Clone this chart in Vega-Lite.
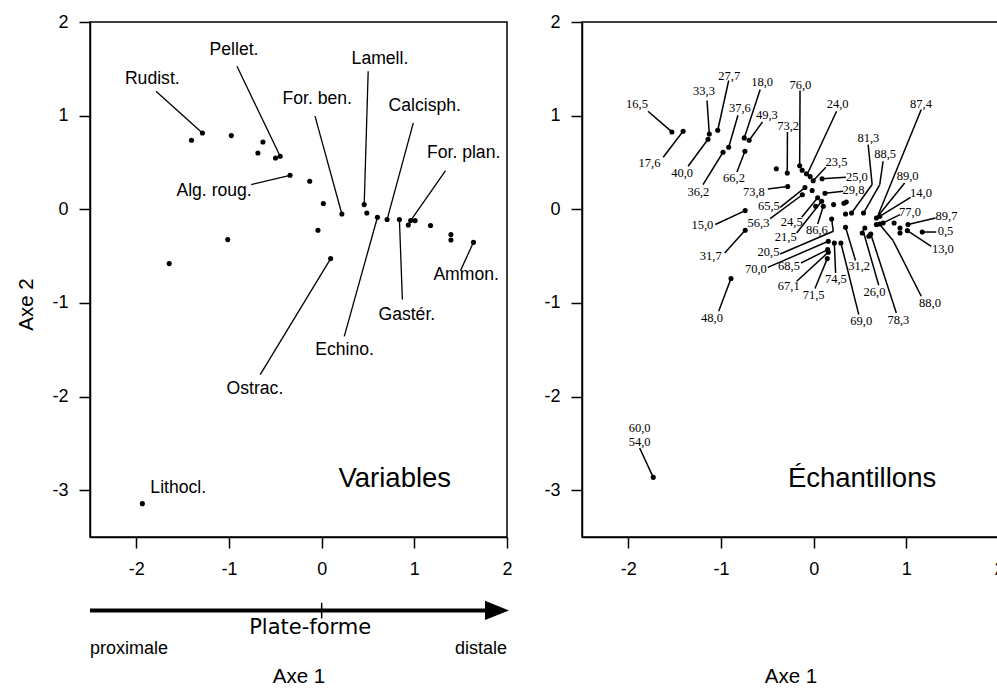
{
  "$schema": "https://vega.github.io/schema/vega-lite/v6.json",
  "background": "white",
  "padding": {"left": 16, "top": 12, "right": 0, "bottom": 0},
  "autosize": {"type": "pad"},
  "datasets": {
    "lpts": [
      {"x": -1.287, "y": 0.815}, {"x": -1.405, "y": 0.737}, {"x": -0.975, "y": 0.787}, {"x": -0.634, "y": 0.719},
      {"x": -0.688, "y": 0.601}, {"x": -0.498, "y": 0.548}, {"x": -0.448, "y": 0.566}, {"x": -0.341, "y": 0.363},
      {"x": -0.129, "y": 0.299}, {"x": 0.018, "y": 0.061}, {"x": 0.218, "y": -0.05}, {"x": -0.04, "y": -0.224},
      {"x": -1.014, "y": -0.324}, {"x": -1.645, "y": -0.58}, {"x": 0.097, "y": -0.527}, {"x": 0.459, "y": 0.05},
      {"x": 0.487, "y": -0.04}, {"x": 0.602, "y": -0.085}, {"x": 0.706, "y": -0.11}, {"x": 0.839, "y": -0.11},
      {"x": 0.935, "y": -0.168}, {"x": 0.96, "y": -0.121}, {"x": 1.008, "y": -0.121}, {"x": 1.175, "y": -0.174},
      {"x": 1.395, "y": -0.27}, {"x": 1.395, "y": -0.328}, {"x": 1.638, "y": -0.353}, {"x": -1.935, "y": -3.144}
    ],
    "llab": [
      {"label": "Rudist.", "x": -1.828, "y": 1.389},
      {"label": "Pellet.", "x": -0.946, "y": 1.699},
      {"label": "For. ben.", "x": -0.048, "y": 1.181},
      {"label": "Lamell.", "x": 0.629, "y": 1.603},
      {"label": "Calcisph.", "x": 1.113, "y": 1.1},
      {"label": "For. plan.", "x": 1.532, "y": 0.598},
      {"label": "Alg. roug.", "x": -1.161, "y": 0.192},
      {"label": "Ammon.", "x": 1.559, "y": -0.705},
      {"label": "Gastér.", "x": 0.919, "y": -1.132},
      {"label": "Echino.", "x": 0.247, "y": -1.506},
      {"label": "Ostrac.", "x": -0.72, "y": -1.918},
      {"label": "Lithocl.", "x": -1.548, "y": -2.975}
    ],
    "llead": [
      {"x": -1.788, "y": 1.261, "x2": -1.287, "y2": 0.815},
      {"x": -0.914, "y": 1.528, "x2": -0.448, "y2": 0.566},
      {"x": -0.072, "y": 0.994, "x2": 0.218, "y2": -0.05},
      {"x": 0.502, "y": 1.474, "x2": 0.459, "y2": 0.05},
      {"x": 0.989, "y": 0.922, "x2": 0.706, "y2": -0.11},
      {"x": 1.337, "y": 0.413, "x2": 0.96, "y2": -0.121},
      {"x": -0.76, "y": 0.264, "x2": -0.341, "y2": 0.363},
      {"x": 1.498, "y": -0.655, "x2": 1.638, "y2": -0.353},
      {"x": 0.871, "y": -0.965, "x2": 0.839, "y2": -0.11},
      {"x": 0.244, "y": -1.357, "x2": 0.602, "y2": -0.085},
      {"x": -0.663, "y": -1.766, "x2": 0.097, "y2": -0.527}
    ],
    "rpts": [
      {"x": -1.53, "y": 0.826}, {"x": -1.409, "y": 0.833}, {"x": -1.126, "y": 0.804}, {"x": -1.035, "y": 0.844},
      {"x": -1.14, "y": 0.748}, {"x": -0.917, "y": 0.662}, {"x": -0.978, "y": 0.609}, {"x": -0.749, "y": 0.762},
      {"x": -0.696, "y": 0.737}, {"x": -0.742, "y": 0.62}, {"x": -0.403, "y": 0.433}, {"x": -0.285, "y": 0.388},
      {"x": -0.151, "y": 0.465}, {"x": -0.124, "y": 0.417}, {"x": -0.078, "y": 0.379}, {"x": -0.038, "y": 0.349},
      {"x": -0.005, "y": 0.304}, {"x": 0.091, "y": 0.326}, {"x": -0.28, "y": 0.243}, {"x": -0.094, "y": 0.232},
      {"x": -0.016, "y": 0.2}, {"x": 0.122, "y": 0.171}, {"x": -0.122, "y": 0.155}, {"x": 0.043, "y": 0.123},
      {"x": 0.086, "y": 0.085}, {"x": 0.104, "y": 0.032}, {"x": 0.022, "y": 0.032}, {"x": 0.215, "y": 0.05},
      {"x": 0.326, "y": 0.064}, {"x": 0.352, "y": 0.078}, {"x": -0.739, "y": -0.014}, {"x": 0.344, "y": -0.05},
      {"x": 0.409, "y": -0.04}, {"x": 0.538, "y": -0.04}, {"x": 0.194, "y": -0.104}, {"x": 0.677, "y": -0.093},
      {"x": 0.713, "y": -0.075}, {"x": 0.344, "y": -0.192}, {"x": 0.552, "y": -0.2}, {"x": 0.524, "y": -0.253},
      {"x": 0.677, "y": -0.163}, {"x": 0.713, "y": -0.157}, {"x": 0.749, "y": -0.146}, {"x": 0.616, "y": -0.264},
      {"x": 0.595, "y": -0.288}, {"x": 0.868, "y": -0.146}, {"x": 1.018, "y": -0.163}, {"x": 1.011, "y": -0.228},
      {"x": 0.932, "y": -0.2}, {"x": 0.932, "y": -0.253}, {"x": 1.172, "y": -0.243}, {"x": -0.739, "y": -0.224},
      {"x": 0.158, "y": -0.342}, {"x": 0.223, "y": -0.36}, {"x": 0.294, "y": -0.36}, {"x": 0.151, "y": -0.431},
      {"x": 0.158, "y": -0.459}, {"x": 0.147, "y": -0.527}, {"x": -0.892, "y": -0.74}, {"x": -1.731, "y": -2.863}
    ],
    "rlab": [
      {"label": "16,5", "x": -1.906, "y": 1.119}, {"label": "17,6", "x": -1.771, "y": 0.495},
      {"label": "33,3", "x": -1.183, "y": 1.261}, {"label": "27,7", "x": -0.911, "y": 1.421},
      {"label": "40,0", "x": -1.419, "y": 0.388}, {"label": "37,6", "x": -0.796, "y": 1.082},
      {"label": "36,2", "x": -1.244, "y": 0.182}, {"label": "18,0", "x": -0.556, "y": 1.357},
      {"label": "49,3", "x": -0.505, "y": 1.012}, {"label": "66,2", "x": -0.86, "y": 0.334},
      {"label": "73,2", "x": -0.276, "y": 0.887}, {"label": "76,0", "x": -0.143, "y": 1.332},
      {"label": "24,0", "x": 0.258, "y": 1.119}, {"label": "23,5", "x": 0.247, "y": 0.502},
      {"label": "25,0", "x": 0.466, "y": 0.35}, {"label": "29,8", "x": 0.43, "y": 0.205},
      {"label": "73,8", "x": -0.645, "y": 0.182}, {"label": "65,5", "x": -0.484, "y": 0.032},
      {"label": "56,3", "x": -0.595, "y": -0.15}, {"label": "15,0", "x": -1.201, "y": -0.163},
      {"label": "24,5", "x": -0.237, "y": -0.139}, {"label": "21,5", "x": -0.301, "y": -0.296},
      {"label": "86,6", "x": 0.035, "y": -0.217}, {"label": "20,5", "x": -0.487, "y": -0.459},
      {"label": "70,0", "x": -0.624, "y": -0.638}, {"label": "68,5", "x": -0.266, "y": -0.609},
      {"label": "67,1", "x": -0.269, "y": -0.823}, {"label": "71,5", "x": 0.0, "y": -0.911},
      {"label": "74,5", "x": 0.24, "y": -0.745}, {"label": "31,7", "x": -1.111, "y": -0.495},
      {"label": "48,0", "x": -1.097, "y": -1.161}, {"label": "31,2", "x": 0.491, "y": -0.601},
      {"label": "69,0", "x": 0.513, "y": -1.197}, {"label": "26,0", "x": 0.656, "y": -0.887},
      {"label": "78,3", "x": 0.914, "y": -1.178}, {"label": "88,0", "x": 1.255, "y": -1.001},
      {"label": "13,0", "x": 1.395, "y": -0.424}, {"label": "0,5", "x": 1.423, "y": -0.228},
      {"label": "89,7", "x": 1.433, "y": -0.067}, {"label": "77,0", "x": 1.04, "y": -0.032},
      {"label": "14,0", "x": 1.158, "y": 0.174}, {"label": "89,0", "x": 1.014, "y": 0.353},
      {"label": "87,4", "x": 1.158, "y": 1.119}, {"label": "88,5", "x": 0.771, "y": 0.595},
      {"label": "81,3", "x": 0.591, "y": 0.762}, {"label": "60,0", "x": -1.878, "y": -2.337},
      {"label": "54,0", "x": -1.878, "y": -2.482}
    ],
    "rlead": [
      {"x": -1.788, "y": 1.047, "x2": -1.53, "y2": 0.826},
      {"x": -1.624, "y": 0.556, "x2": -1.409, "y2": 0.833},
      {"x": -1.151, "y": 1.161, "x2": -1.126, "y2": 0.804},
      {"x": -0.917, "y": 1.375, "x2": -1.035, "y2": 0.844},
      {"x": -1.355, "y": 0.459, "x2": -1.14, "y2": 0.748},
      {"x": -0.817, "y": 1.004, "x2": -0.917, "y2": 0.662},
      {"x": -1.194, "y": 0.264, "x2": -0.978, "y2": 0.609},
      {"x": -0.577, "y": 1.279, "x2": -0.749, "y2": 0.762},
      {"x": -0.552, "y": 0.933, "x2": -0.696, "y2": 0.737},
      {"x": -0.828, "y": 0.399, "x2": -0.742, "y2": 0.62},
      {"x": -0.283, "y": 0.826, "x2": -0.285, "y2": 0.388},
      {"x": -0.147, "y": 1.268, "x2": -0.151, "y2": 0.465},
      {"x": 0.247, "y": 1.047, "x2": -0.059, "y2": 0.395},
      {"x": 0.132, "y": 0.449, "x2": -0.005, "y2": 0.304},
      {"x": 0.347, "y": 0.342, "x2": 0.091, "y2": 0.326},
      {"x": 0.319, "y": 0.192, "x2": 0.122, "y2": 0.171},
      {"x": -0.495, "y": 0.217, "x2": -0.28, "y2": 0.243},
      {"x": -0.362, "y": 0.021, "x2": -0.094, "y2": 0.232},
      {"x": -0.47, "y": -0.099, "x2": -0.122, "y2": 0.155},
      {"x": -1.061, "y": -0.163, "x2": -0.739, "y2": -0.014},
      {"x": -0.129, "y": -0.085, "x2": 0.043, "y2": 0.123},
      {"x": -0.183, "y": -0.253, "x2": 0.086, "y2": 0.085},
      {"x": 0.043, "y": -0.157, "x2": 0.104, "y2": 0.032},
      {"x": -0.362, "y": -0.478, "x2": 0.212, "y2": -0.235},
      {"x": 0.212, "y": -0.235, "x2": 0.194, "y2": -0.104},
      {"x": -0.495, "y": -0.62, "x2": 0.158, "y2": -0.342},
      {"x": -0.137, "y": -0.574, "x2": 0.151, "y2": -0.431},
      {"x": -0.183, "y": -0.769, "x2": 0.158, "y2": -0.459},
      {"x": 0.014, "y": -0.847, "x2": 0.147, "y2": -0.527},
      {"x": 0.237, "y": -0.681, "x2": 0.223, "y2": -0.36},
      {"x": -0.96, "y": -0.467, "x2": -0.739, "y2": -0.224},
      {"x": -1.025, "y": -1.09, "x2": -0.892, "y2": -0.74},
      {"x": 0.452, "y": -0.548, "x2": 0.344, "y2": -0.192},
      {"x": 0.487, "y": -1.125, "x2": 0.294, "y2": -0.36},
      {"x": 0.702, "y": -0.812, "x2": 0.532, "y2": -0.224},
      {"x": 0.892, "y": -1.108, "x2": 0.616, "y2": -0.264},
      {"x": 1.161, "y": -0.929, "x2": 0.857, "y2": -0.334},
      {"x": 0.857, "y": -0.334, "x2": 0.713, "y2": -0.163},
      {"x": 1.269, "y": -0.395, "x2": 1.011, "y2": -0.228},
      {"x": 1.323, "y": -0.243, "x2": 1.172, "y2": -0.243},
      {"x": 1.315, "y": -0.093, "x2": 1.018, "y2": -0.163},
      {"x": 0.932, "y": -0.057, "x2": 0.749, "y2": -0.146},
      {"x": 1.046, "y": 0.128, "x2": 0.713, "y2": -0.075},
      {"x": 0.982, "y": 0.281, "x2": 0.677, "y2": -0.093},
      {"x": 1.161, "y": 1.065, "x2": 0.699, "y2": -0.053},
      {"x": 0.749, "y": 0.513, "x2": 0.713, "y2": 0.264},
      {"x": 0.713, "y": 0.264, "x2": 0.538, "y2": -0.04},
      {"x": 0.588, "y": 0.691, "x2": 0.631, "y2": 0.264},
      {"x": 0.631, "y": 0.264, "x2": 0.409, "y2": -0.04},
      {"x": -1.878, "y": -2.55, "x2": -1.731, "y2": -2.863}
    ]
  },
  "spacing": 75,
  "bounds": "flush",
  "hconcat": [
    {
      "width": 417,
      "height": 515,
      "layer": [
        {
          "data": {"name": "llead"},
          "mark": {"type": "rule", "color": "black", "strokeWidth": 1.3},
          "encoding": {
            "x": {"field": "x", "type": "quantitative", "title": "Axe 1", "scale": {"domain": [-2.5, 2], "nice": false, "zero": false}},
            "y": {"field": "y", "type": "quantitative", "title": "Axe 2", "scale": {"domain": [-3.5, 2], "nice": false, "zero": false}, "axis": {"titleY": 282}},
            "x2": {"field": "x2"},
            "y2": {"field": "y2"}
          }
        },
        {
          "data": {"name": "lpts"},
          "mark": {"type": "point", "filled": true, "color": "black", "opacity": 1, "size": 26},
          "encoding": {
            "x": {"field": "x", "type": "quantitative", "title": "Axe 1"},
            "y": {"field": "y", "type": "quantitative", "title": "Axe 2"}
          }
        },
        {
          "data": {"name": "llab"},
          "mark": {"type": "text", "font": "Liberation Sans", "fontSize": 17.6, "color": "black", "align": "center", "baseline": "middle"},
          "encoding": {
            "x": {"field": "x", "type": "quantitative", "title": "Axe 1"},
            "y": {"field": "y", "type": "quantitative", "title": "Axe 2"},
            "text": {"field": "label"}
          }
        },
        {
          "data": {"values": [{}]},
          "mark": {"type": "rule", "color": "black", "strokeWidth": 4},
          "encoding": {
            "x": {"datum": -2.5, "type": "quantitative", "title": "Axe 1"},
            "x2": {"datum": 1.85},
            "y": {"datum": -4.284, "type": "quantitative", "title": "Axe 2"}
          }
        },
        {
          "data": {"values": [{}]},
          "mark": {"type": "rule", "color": "black", "strokeWidth": 1.5},
          "encoding": {
            "x": {"datum": 0, "type": "quantitative", "title": "Axe 1"},
            "y": {"datum": -4.203, "type": "quantitative", "title": "Axe 2"},
            "y2": {"datum": -4.37}
          }
        },
        {
          "data": {"values": [{}]},
          "mark": {"type": "point", "shape": "M-1,-0.8L1,0L-1,0.8Z", "size": 576, "filled": true, "color": "black", "opacity": 1, "strokeWidth": 0},
          "encoding": {
            "x": {"datum": 1.892, "type": "quantitative", "title": "Axe 1"},
            "y": {"datum": -4.284, "type": "quantitative", "title": "Axe 2"}
          }
        },
        {
          "data": {"values": [{}]},
          "mark": {"type": "text", "text": "Plate-forme", "font": "DejaVu Sans", "fontSize": 21, "color": "black", "align": "center", "baseline": "middle"},
          "encoding": {
            "x": {"datum": -0.124, "type": "quantitative", "title": "Axe 1"},
            "y": {"datum": -4.473, "type": "quantitative", "title": "Axe 2"}
          }
        },
        {
          "data": {"values": [{}]},
          "mark": {"type": "text", "text": "proximale", "font": "Liberation Sans", "fontSize": 18, "color": "black", "align": "left", "baseline": "middle"},
          "encoding": {
            "x": {"datum": -2.5, "type": "quantitative", "title": "Axe 1"},
            "y": {"datum": -4.701, "type": "quantitative", "title": "Axe 2"}
          }
        },
        {
          "data": {"values": [{}]},
          "mark": {"type": "text", "text": "distale", "font": "Liberation Sans", "fontSize": 18, "color": "black", "align": "right", "baseline": "middle"},
          "encoding": {
            "x": {"datum": 2.0, "type": "quantitative", "title": "Axe 1"},
            "y": {"datum": -4.701, "type": "quantitative", "title": "Axe 2"}
          }
        },
        {
          "data": {"values": [{}]},
          "mark": {"type": "text", "text": "Variables", "font": "Liberation Sans", "fontSize": 27.5, "color": "black", "align": "center", "baseline": "middle"},
          "encoding": {
            "x": {"datum": 0.789, "type": "quantitative", "title": "Axe 1"},
            "y": {"datum": -2.885, "type": "quantitative", "title": "Axe 2"}
          }
        }
      ]
    },
    {
      "width": 417,
      "height": 515,
      "layer": [
        {
          "data": {"name": "rlead"},
          "mark": {"type": "rule", "color": "black", "strokeWidth": 1.5},
          "encoding": {
            "x": {"field": "x", "type": "quantitative", "title": "Axe 1", "scale": {"domain": [-2.5, 2], "nice": false, "zero": false}},
            "y": {"field": "y", "type": "quantitative", "title": null, "scale": {"domain": [-3.5, 2], "nice": false, "zero": false}},
            "x2": {"field": "x2"},
            "y2": {"field": "y2"}
          }
        },
        {
          "data": {"name": "rpts"},
          "mark": {"type": "point", "filled": true, "color": "black", "opacity": 1, "size": 26},
          "encoding": {
            "x": {"field": "x", "type": "quantitative", "title": "Axe 1"},
            "y": {"field": "y", "type": "quantitative", "title": null}
          }
        },
        {
          "data": {"name": "rlab"},
          "mark": {"type": "text", "font": "Liberation Serif", "fontSize": 12.5, "color": "black", "align": "center", "baseline": "middle"},
          "encoding": {
            "x": {"field": "x", "type": "quantitative", "title": "Axe 1"},
            "y": {"field": "y", "type": "quantitative", "title": null},
            "text": {"field": "label"}
          }
        },
        {
          "data": {"values": [{}]},
          "mark": {"type": "text", "text": "Échantillons", "font": "Liberation Sans", "fontSize": 27.5, "color": "black", "align": "center", "baseline": "middle"},
          "encoding": {
            "x": {"datum": 0.522, "type": "quantitative", "title": "Axe 1"},
            "y": {"datum": -2.885, "type": "quantitative", "title": null}
          }
        }
      ]
    }
  ],
  "config": {
    "view": {"stroke": "black", "strokeWidth": 1.5},
    "axis": {
      "grid": false,
      "domainColor": "black",
      "domainWidth": 1.5,
      "tickColor": "black",
      "tickSize": 11,
      "tickWidth": 1.5,
      "labelFont": "Liberation Sans",
      "labelFontSize": 18,
      "labelColor": "black",
      "labelFlush": false,
      "labelOverlap": false,
      "labelExpr": "'' + datum.value",
      "titleFont": "Liberation Sans",
      "titleFontSize": 20.5,
      "titleFontWeight": "normal",
      "titleColor": "black"
    },
    "axisX": {"tickCount": 5, "labelPadding": 12, "titlePadding": 88},
    "axisY": {"tickCount": 6, "labelPadding": 11, "titlePadding": 15}
  }
}
